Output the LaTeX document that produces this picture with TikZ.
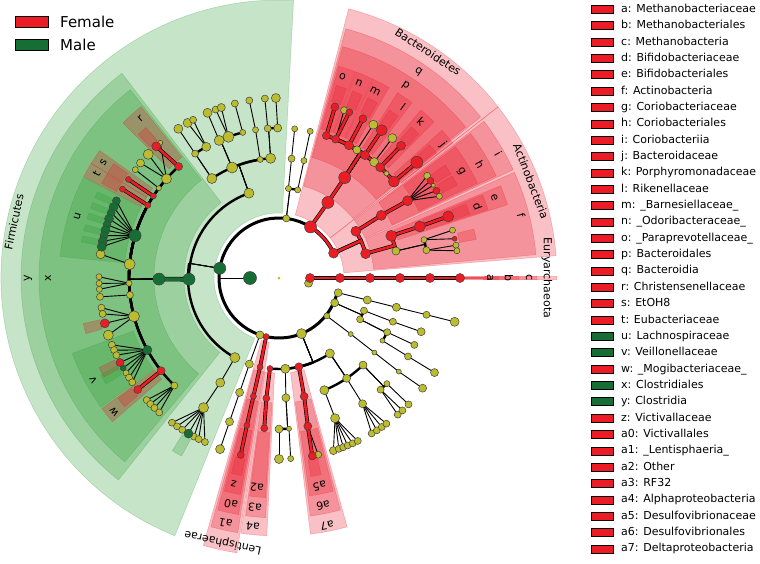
\documentclass[tikz,border=0pt]{standalone}
\usepackage{fontspec}
\setmainfont{DejaVu Sans}
\pgfdeclarelayer{bands}
\pgfdeclarelayer{edges}
\pgfsetlayers{bands,edges,main}
\definecolor{nRed}{RGB}{236,28,36}
\definecolor{nGreen}{RGB}{22,110,52}
\definecolor{nYel}{RGB}{188,188,48}
\definecolor{bRed}{RGB}{232,24,40}
\definecolor{bGreen}{RGB}{44,155,50}
\newcommand\wband[5]{\path[#5] (#1:#3pt) arc[start angle=#1,end angle=#2,radius=#3pt] -- (#2:#4pt) arc[start angle=#2,end angle=#1,radius=#4pt] -- cycle;}
\begin{document}
\begin{tikzpicture}[
  nd/.style={circle,inner sep=0pt,draw=black!75,line width=0.5pt},
  thinl/.style={draw=black,line width=0.9pt},
  arcl/.style={draw=black,line width=2.4pt},
  rbar/.style={draw=black,line width=0.6pt,double=nRed,double distance=2.6pt},
  gbar/.style={draw=black,line width=0.6pt,double=nGreen,double distance=3.4pt},
  rband/.style={fill=bRed,fill opacity=0.27,draw=bRed,draw opacity=0.3,line width=0.5pt},
  gband/.style={fill=bGreen,fill opacity=0.27,draw=bGreen,draw opacity=0.3,line width=0.5pt},
  lab/.style={font=\fontsize{11}{13}\selectfont,inner sep=0pt},
  leg/.style={font=\fontsize{11}{13}\selectfont,anchor=west,inner sep=0pt,text height=8pt,text depth=2.3pt},
  legbox/.style={draw=black,line width=0.9pt,minimum width=22pt,minimum height=8pt,inner sep=0pt}
]
\useasboundingbox (-279pt,-285pt) rectangle (481pt,278pt);

% ---------------- nodes ----------------
\node[circle,fill=nYel,inner sep=0pt,minimum size=3pt] (root) at (0,0) {};
\foreach \nm/\an/\rr/\dd in {
 kU/-10/30/8, p83/83/60/7, p251/251.5/60/8, pPro/292/60/10, pA322/321.6/61/6, pA336/336/61/8, pA346/346/61/8,
 fy1/58.7/150/8, fy2/50.6/150/9, fy3/44.2/150/5, gn1/68.8/180/7, gy1/58.4/180/9, gy2/51/180/9,
 gg1/34.6/180/7, gg3/31/180/4, gg5/27/180/6, oY13/13/120/8, fy14/14.8/150/6, fy10/10.7/150/7, ga1/15.4/180/6, ga3/10.5/180/6, ga4/8.7/180/6,
 c109/109.5/90/10, o124/124/120/10, o113/113/120/11, o99/99/120/6, o94/94/120/10,
 f124/124/150/7, f119/119/150/9, f113/113.5/150/10, f110/109.7/150/11, f104/104/150/6, f99/99/150/6, f94/94.3/150/7, f90/90.5/150/8,
 g124/124/180/9, g120/120.5/180/9, g118/118.5/180/7, g113/113.4/180/9, g111/110.6/180/7, g109/108.7/180/8, g104/104.2/180/7, g99/99.5/180/7, g94/94.5/180/7, g91/91/180/9,
 c84/84/90/6, c78/78/90/6, o84/84/120/7, o78/78/120/6, f84/84/150/6, f78/78/150/6,
 f138/138.6/150/10, g131/131.3/180/5, g136/136.6/180/10, g140/140.3/180/8, g143/143/180/6, f143/143.2/150/5,
 f175/174.7/150/11, g172/172.4/180/9, f182/182/150/6, g180/179.6/180/6, g182/181.7/180/6, g184/183.6/180/6, f186/186.5/150/7, g186/186/180/7,
 f195/194.8/150/11, g190/189.5/180/7, g192/191.5/180/7, g198/198.5/180/10,
 g202/201.8/180/7, g204/203.6/180/7, g205/205.4/180/7, g212/211.8/180/6, g214/213.6/180/7, g215/215.4/180/7,
 f226/225.8/150/7, g223/222.7/180/7, g224/224.4/180/7, g226/226.2/180/7, g228/228.3/180/7,
 c240/241/91/10, o240/240.7/120/9, f240/239.8/150/10, g233/233.5/180/7, g235/235.5/180/7, g237/237.5/180/7, g242/241.8/180/7, g243/243.5/180/7, g246/245.7/180/7,
 c251/251/91/8, o251/251/121/8, f251/251/152/8, g251/251/181/9,
 c274/274/91/9, o273/273.3/120/8, f270/270/151/8, f274/273.8/151/5, g270/270/181/9, g274/273.7/181/6, g282/282.5/181/7,
 c304/304/91/9, o292/292/121/9, o304/304/121/8, o314/314/121/8, f292/291.8/151/9,
 g287/287.5/181/8, g289/289.3/181/7, g291/290.8/181/7, g292/292.3/181/7, g294/294/181/7, g296/295.8/181/7,
 f304/303.6/151/8, g301/300.8/181/7, g303/302.7/181/7, g305/304.6/181/7, g306/306.4/181/7,
 f312/312.3/151/7, f316/315.6/151/6, g311/311/181/7, g313/313/181/7, g316/315.7/181/7,
 c322/322/91/5, o322/322/121/5, f322/322/152/5, g322/322.5/181/8,
 c339/339/91/7, c333/333/91/7, o339/339/122/7, o333/333.4/121/7, o329/328.8/121/5, f339/339.3/152/8, f334/333.7/151/7, f329/328.7/151/7, g329/328.7/182/8,
 c346/346/91/8, o346/346/121/8, f346/346/152/7, g346/346/181/9}
 \node[nd,fill=nYel,minimum size=\dd pt] (\nm) at (\an:\rr pt) {};
\foreach \nm/\an/\rr/\dd in {
 kA/0/31/9, eA2/0/61/9, eA3/0/91/9, eA4/0/121/9, eA5/0/151/9, eA6/0/181/9,
 pAct/24.5/60/10, pBac/58.3/60/12, cQ/57.1/90/12, oP/56.8/120/12,
 fo/71.6/150/8, fn/67.8/150/8, fm/62.2/150/9, fl/55/150/9, fk/47.6/150/9, fj/40/150/11,
 go/71.9/180/8, gn2/67/180/7, gm/62.2/180/8, gl/55.2/180/11, gk/47.3/180/9, gj/40/180/12,
 cI/31.3/90/10, cF/15.7/90/10, oH/31.5/120/10, fG/31/150/10, gg2/32.7/180/7, gg4/29/180/7, oE/20.6/120/11, fD/20.1/150/11, gD/20/180/11, ga2/12.6/180/5,
 fR/132/150/8, gR/133/180/9, fS/146.9/150/6, gS/146.8/180/6, fT/151/150/6, gT/150.4/180/6, g195/194.6/180/9, g208/208/180/8, fW/218.2/150/8, gW/218.3/180/8,
 pLen/257.6/60/6, cLen/258/91/6, oLen/257.8/121/6, fLen/257.7/151/6, gLen/257.8/181/7,
 cA4/264.3/91/6, oA3/264/121/7, fA2/264.4/151/7,
 cA7/282.6/91/8, oA6/282/121/8, fA5/281/151/8, gA5/280.6/181/8}
 \node[nd,fill=nRed,minimum size=\dd pt] (\nm) at (\an:\rr pt) {};
\foreach \nm/\an/\rr/\dd in {
 kB/180/29/13, pFir/170.7/60/12, cClo/180.8/90/12, oClo/180.5/120/12, fU/163.6/150/12, fV/208.7/150/9,
 gu1/154.6/180/8, gu2/156.8/180/9, gu3/158.8/180/8, gu4/160.8/180/9, gu5/162.8/180/8, gu6/164.6/180/9, gu7/166.4/180/8, gu8/168.2/180/9, gu9/170/180/9, g210/210/180/6, g240/239.8/180/9}
 \node[nd,fill=nGreen,minimum size=\dd pt] (\nm) at (\an:\rr pt) {};

% ---------------- connectors ----------------
\begin{pgfonlayer}{edges}
\draw[thinl] (kB.center) -- (180:60pt);
\draw[draw=black,line width=3pt] (24.5:60pt) arc[start angle=24.5,end angle=346,radius=60pt];
\foreach \pp/\qq in {
 fy1/gy1, fy2/gy2, fn/gn1, fG/gg1, fG/gg2, fG/gg3, fG/gg4, fG/gg5, fy14/ga1, fy14/ga2, fy10/ga3, fy10/ga4,
 o124/f124, f124/g124, f119/g120, f119/g118, f113/g113, f110/g111, f110/g109, f104/g104, o99/f99, f99/g99, f94/g94, f90/g91,
 c84/o84, o84/f84, c78/o78, o78/f78,
 f138/g131, f138/g136, f138/g140, f143/g143,
 fU/gu1, fU/gu2, fU/gu3, fU/gu4, fU/gu5, fU/gu6, fU/gu7, fU/gu8, fU/gu9, f175/g172, f182/g180, f182/g182, f182/g184, f186/g186,
 f195/g190, f195/g192, f195/g195, f195/g198,
 fV/g202, fV/g204, fV/g205, fV/g208, fV/g210, fV/g212, fV/g214, fV/g215,
 f226/g223, f226/g224, f226/g226, f226/g228,
 c240/o240, o240/f240, f240/g233, f240/g235, f240/g237, f240/g240, f240/g242, f240/g243, f240/g246,
 p251/c251, c251/o251, o251/f251, f251/g251,
 fA5/g282, c274/o273, f270/g270, f274/g274,
 o292/f292, f292/g287, f292/g289, f292/g291, f292/g292, f292/g294, f292/g296,
 o304/f304, f304/g301, f304/g303, f304/g305, f304/g306,
 f312/g311, f312/g313, f316/g316,
 pA322/c322, c322/o322, o322/f322, f322/g322,
 c339/o339, o339/f339, o333/f334, o329/f329, f329/g329,
 pA346/c346, c346/o346, o346/f346, f346/g346}
 \draw[thinl] (\pp.center) -- (\qq.center);
\foreach \pp/\qq/\an/\bn/\rr in {
 p83/c84/83/84/90, p83/c78/83/78/90,
 oP/fy1/56.8/58.7/150, oP/fy2/56.8/50.6/150, oP/fy3/56.8/44.2/150,
 cF/oY13/15.7/13/120, oY13/fy14/13/14.8/150, oY13/fy10/13/10.7/150,
 pFir/c109/170.7/109.5/90, pFir/cClo/170.7/180.8/90, pFir/c240/170.7/241/91,
 c109/o124/109.5/124/120, c109/o113/109.5/113/120, c109/o99/109.5/99/120, c109/o94/109.5/94/120,
 o124/f119/124/119/150, o113/f113/113/113.5/150, o113/f110/113/109.7/150, o113/f104/113/104/150, o94/f94/94/94.3/150, o94/f90/94/90.5/150,
 oClo/fR/180.5/132/150, oClo/f138/180.5/138.6/150, oClo/f143/180.5/143.2/150, oClo/fS/180.5/146.9/150, oClo/fT/180.5/151/150,
 oClo/fU/180.5/163.6/150, oClo/f175/180.5/174.7/150, oClo/f182/180.5/182/150, oClo/f186/180.5/186.5/150, oClo/f195/180.5/194.8/150,
 oClo/fV/180.5/208.7/150, oClo/fW/180.5/218.2/150, oClo/f226/180.5/225.8/150,
 pPro/cA4/292/264.3/91, pPro/c274/292/274/91, pPro/cA7/292/282.6/91, pPro/c304/292/304/91,
 o273/f270/273.3/270/151, o273/f274/273.3/273.8/151,
 c304/o292/304/292/121, c304/o304/304/304/121, c304/o314/304/314/121,
 o314/f312/314/312.3/151, o314/f316/314/315.6/151,
 pA336/c339/336/339/91, pA336/c333/336/333/91,
 c333/o333/333/333.4/121, c333/o329/333/328.8/121}
 {\draw[thinl] (\pp.center) -- (\an:\rr pt);
  \draw[arcl] (\an:\rr pt) arc[start angle=\an,end angle=\bn,radius=\rr pt] -- (\qq.center);}
\draw[rbar] (pAct.center) arc[start angle=24.5,end angle=58.3,radius=60pt];
\foreach \pp/\qq/\an/\bn/\rr in {
 pAct/cI/24.5/31.3/90, pAct/cF/24.5/15.7/90, cF/oE/15.7/20.6/120,
 oP/fo/56.8/71.6/150, oP/fn/56.8/67.8/150, oP/fm/56.8/62.2/150, oP/fl/56.8/55/150, oP/fk/56.8/47.6/150, oP/fj/56.8/40/150}
 \draw[rbar] (\pp.center) -- (\an:\rr pt) arc[start angle=\an,end angle=\bn,radius=\rr pt] -- (\qq.center);
\foreach \pp/\qq in {
 kA/eA2, eA2/eA3, eA3/eA4, eA4/eA5, eA5/eA6, pBac/cQ, cQ/oP,
 fo/go, fn/gn2, fm/gm, fl/gl, fk/gk, fj/gj, cI/oH, oH/fG, oE/fD, fD/gD,
 fR/gR, fS/gS, fT/gT, fW/gW, pLen/cLen, cLen/oLen, oLen/fLen, fLen/gLen,
 cA4/oA3, oA3/fA2, cA7/oA6, oA6/fA5, fA5/gA5}
 \draw[rbar] (\pp.center) -- (\qq.center);
\draw[gbar] (cClo.center) -- (oClo.center);
\end{pgfonlayer}

% ---------------- highlight bands ----------------
\begin{pgfonlayer}{bands}
\foreach \an/\bn in {-0.35/0.35, 4.6/38, 38/75.5, 254.2/261.3} \wband{\an}{\bn}{65}{278}{rband};
\wband{87}{248}{65}{278}{gband};
\foreach \an/\bn in {-0.35/0.35, 5.2/24.2, 24.8/37.4, 38.6/75, 254.7/260.8, 261.5/267.3, 277/285.3} \wband{\an}{\bn}{95}{258}{rband};
\wband{127.5}{231.5}{95}{258}{gband};
\foreach \an/\bn in {-0.35/0.35, 25.2/37, 17.8/22.6, 39/74.6, 255.2/260.3, 262/266.8, 277.5/284.8} \wband{\an}{\bn}{125}{240}{rband};
\wband{128.3}{230}{125}{240}{gband};
\foreach \an/\bn in {-0.35/0.35, 25.6/36.6, 18.1/22.2, 69.6/74.2, 64.8/69.4, 60/64.6, 52.8/57.4, 45.2/49.8, 37.8/42.2,
  128.8/135.2, 144.6/148.6, 148.6/152.6, 216.4/220.8, 255.6/259.9, 262.3/266.5, 278/284.3} \wband{\an}{\bn}{155}{220}{rband};
\foreach \an/\bn in {152.8/174.4, 200/216} \wband{\an}{\bn}{155}{220}{gband};
\foreach \an in {71.9, 67, 62.2, 55.2, 47.3, 40, 32.7, 29, 20, 12.6, 133, 146.8, 150.4, 194.6, 208, 218.3, 257.8, 280.6}
  \wband{\an-1.5}{\an+1.5}{184}{201}{rband};
\foreach \an in {155.5, 158.8, 162, 165.5, 168.8} \wband{\an-0.9}{\an+0.9}{183}{201}{gband};
\foreach \an in {210, 239.8} \wband{\an-1.5}{\an+1.5}{184}{203}{gband};
\end{pgfonlayer}

% ---------------- clade labels ----------------
\foreach \nm/\tx/\an/\rr in {
 lEur/Euryarchaeota/0/268, la/a/0/211, lb/b/0/230, lc/c/0/250,
 ld/d/19.7/211, le/e/20.5/230, lf/f/14.5/250, lg/g/30.4/211, lh/h/29.5/231, li/i/29.5/252, lAct/Actinobacteria/21/270,
 lj/j/39/211, lk/k/47.7/211, ll/l/54/211, lm/m/62.7/210, ln/n/67.7/211, lo/o/72.5/211, lp/p/56.6/230, lq/q/56/249, lBac/Bacteroidetes/56.6/271,
 lr/r/131/211, ls/s/146.7/210, lt/t/150.3/210, lu/u/163/211, lv/v/208.7/212, lw/w/219/212, lx/x/180/231, ly/y/180/251, lFir/Firmicutes/168/271,
 lz/z/257.6/211, la0/a0/258/231, la1/a1/257.7/251, lLen/Lentisphaerae/258/270, la2/a2/264/211, la3/a3/264/231, la4/a4/264/250,
 la5/a5/281/212, la6/a6/281/232, la7/a7/281/252}
 \node[lab,rotate=\an-90] (\nm) at (\an:\rr pt) {\tx};

% ---------------- legends ----------------
\node[legbox,minimum width=33pt,minimum height=11pt,fill=nRed] (fbox) at (-247.5pt,256.5pt) {};
\node[anchor=west,inner sep=0pt,font=\fontsize{15}{18}\selectfont] (ftxt) at (-219pt,256.5pt) {Female};
\node[legbox,minimum width=33pt,minimum height=11pt,fill=nGreen] (mbox) at (-247.5pt,233pt) {};
\node[anchor=west,inner sep=0pt,font=\fontsize{15}{18}\selectfont] (mtxt) at (-219pt,233pt) {Male};
\foreach \tx/\cl [count=\ii from 0] in {
 a: Methanobacteriaceae/nRed, b: Methanobacteriales/nRed, c: Methanobacteria/nRed, d: Bifidobacteriaceae/nRed,
 e: Bifidobacteriales/nRed, f: Actinobacteria/nRed, g: Coriobacteriaceae/nRed, h: Coriobacteriales/nRed,
 i: Coriobacteriia/nRed, j: Bacteroidaceae/nRed, k: Porphyromonadaceae/nRed, l: Rikenellaceae/nRed,
 m: \_Barnesiellaceae\_/nRed, n: \_Odoribacteraceae\_/nRed, o: \_Paraprevotellaceae\_/nRed, p: Bacteroidales/nRed,
 q: Bacteroidia/nRed, r: Christensenellaceae/nRed, s: EtOH8/nRed, t: Eubacteriaceae/nRed,
 u: Lachnospiraceae/nGreen, v: Veillonellaceae/nGreen, w: \_Mogibacteriaceae\_/nRed, x: Clostridiales/nGreen,
 y: Clostridia/nGreen, z: Victivallaceae/nRed, a0: Victivallales/nRed, a1: \_Lentisphaeria\_/nRed,
 a2: Other/nRed, a3: RF32/nRed, a4: Alphaproteobacteria/nRed, a5: Desulfovibrionaceae/nRed,
 a6: Desulfovibrionales/nRed, a7: Deltaproteobacteria/nRed}
 {\pgfmathsetmacro\yy{268.5-\ii*16.35}
  \node[legbox,fill=\cl] (lb\ii) at (323pt,\yy pt) {};
  \node[leg] (lt\ii) at (342pt,\yy pt) {\tx};}
\end{tikzpicture}
\end{document}
